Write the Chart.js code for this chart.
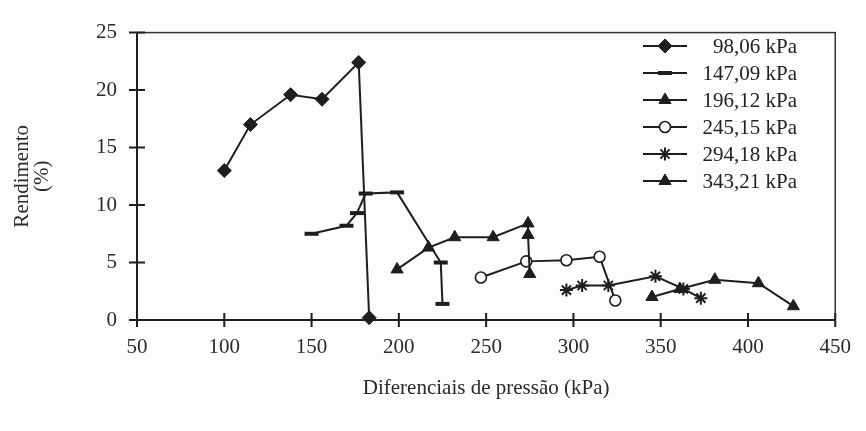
<!DOCTYPE html>
<html>
<head>
<meta charset="utf-8">
<script src="https://cdn.jsdelivr.net/npm/chart.js@4.4.1/dist/chart.umd.min.js"></script>
<style>
    body { margin: 0; background: #fdfdfd; }
    canvas { display: block; }
</style>
</head>
<body>
<canvas id="chart" width="866" height="431"></canvas>
<script>
// legend labels, one per pressure
const seriesNames = ['98,06 kPa', '147,09 kPa', '196,12 kPa', '245,15 kPa', '294,18 kPa', '343,21 kPa'];

// values (x = pressure differential in kPa, y = yield in %)
const x98 = [100, 115, 138, 156, 177, 183];
const y98 = [13.0, 17.0, 19.6, 19.2, 22.4, 0.2];

const x147 = [150, 170, 176, 181, 199, 224, 225];
const y147 = [7.5, 8.2, 9.3, 11.0, 11.1, 5.0, 1.4];

const x196 = [199, 217, 232, 254, 274, 274, 275];
const y196 = [4.4, 6.3, 7.2, 7.2, 8.4, 7.4, 4.0];

const x245 = [247, 273, 296, 315, 324];
const y245 = [3.7, 5.1, 5.2, 5.5, 1.7];

const x294 = [296, 305, 320, 347, 363, 373];
const y294 = [2.6, 3.0, 3.0, 3.8, 2.7, 1.9];

const x343 = [345, 361, 381, 406, 426];
const y343 = [2.0, 2.7, 3.5, 3.2, 1.2];

const xTicks = [50, 100, 150, 200, 250, 300, 350, 400, 450];
const yTicks = [0, 5, 10, 15, 20, 25];

const ink = '#1e1e1e';
const serif = "'Liberation Serif', 'DejaVu Serif', serif";

const markers = [
    { pointStyle: 'rectRot', radius: 7, fill: ink, borderWidth: 1 },
    { pointStyle: 'line', radius: 7, fill: ink, borderWidth: 4 },
    { pointStyle: 'triangle', radius: 7, fill: ink, borderWidth: 1 },
    { pointStyle: 'circle', radius: 5.5, fill: '#fdfdfd', borderWidth: 1.6 },
    { pointStyle: 'star', radius: 6.5, fill: ink, borderWidth: 2 },
    { pointStyle: 'triangle', radius: 7, fill: ink, borderWidth: 1 }
];

const xs = [x98, x147, x196, x245, x294, x343];
const ys = [y98, y147, y196, y245, y294, y343];

const datasets = seriesNames.map((name, i) => ({
    label: name,
    data: xs[i].map((x, j) => ({ x: x, y: ys[i][j] })),
    showLine: true,
    borderColor: ink,
    borderWidth: 2,
    tension: 0,
    clip: false,
    pointStyle: markers[i].pointStyle,
    pointRadius: markers[i].radius,
    pointBackgroundColor: markers[i].fill,
    pointBorderColor: ink,
    pointBorderWidth: markers[i].borderWidth
}));

// frame round the plot with ticks crossing the axes
const framePlugin = {
    id: 'frame',
    beforeDatasetsDraw: (chart) => {
        const { ctx, chartArea: a, scales } = chart;
        ctx.save();
        ctx.strokeStyle = '#333';
        ctx.lineWidth = 1.5;
        ctx.strokeRect(a.left, a.top, a.right - a.left, a.bottom - a.top);
        ctx.strokeStyle = ink;
        ctx.lineWidth = 2;
        ctx.beginPath();
        ctx.moveTo(a.left, a.top);
        ctx.lineTo(a.left, a.bottom);
        ctx.lineTo(a.right, a.bottom);
        xTicks.forEach(v => {
            const px = scales.x.getPixelForValue(v);
            ctx.moveTo(px, a.bottom - 7);
            ctx.lineTo(px, a.bottom + 7);
        });
        yTicks.forEach(v => {
            const py = scales.y.getPixelForValue(v);
            ctx.moveTo(a.left - 8, py);
            ctx.lineTo(a.left + 8, py);
        });
        ctx.stroke();
        ctx.restore();
    }
};

// legend drawn inside the plot, top right
const legendPlugin = {
    id: 'boxLegend',
    afterDraw: (chart) => {
        const { ctx } = chart;
        ctx.save();
        chart.data.datasets.forEach((ds, i) => {
            const y = 46 + i * 27;
            ctx.strokeStyle = ink;
            ctx.lineWidth = 2;
            ctx.beginPath();
            ctx.moveTo(643, y);
            ctx.lineTo(687, y);
            ctx.stroke();
            ctx.fillStyle = markers[i].fill;
            ctx.lineWidth = markers[i].borderWidth;
            Chart.helpers.drawPoint(ctx, {
                pointStyle: markers[i].pointStyle,
                radius: markers[i].radius,
                rotation: 0,
                borderWidth: markers[i].borderWidth
            }, 665, y);
            ctx.fillStyle = '#222';
            ctx.font = '21px ' + serif;
            ctx.textAlign = 'right';
            ctx.textBaseline = 'middle';
            ctx.fillText(ds.label, 797, y + 1);
        });
        ctx.restore();
    }
};

new Chart(document.getElementById('chart'), {
    type: 'scatter',
    data: { datasets: datasets },
    options: {
        responsive: false,
        animation: false,
        layout: { padding: { top: 24, right: 21, left: 0, bottom: 0 } },
        plugins: { legend: { display: false }, tooltip: { enabled: false } },
        scales: {
            x: {
                type: 'linear',
                min: 50,
                max: 450,
                afterBuildTicks: (scale) => { scale.ticks = xTicks.map(v => ({ value: v })); },
                afterFit: (scale) => { scale.height = 111; },
                grid: { display: false, drawTicks: false },
                border: { display: false },
                ticks: { color: '#2a2a2a', padding: 15, maxRotation: 0, font: { family: serif, size: 21 } },
                title: {
                    display: true,
                    text: 'Diferenciais de pressão (kPa)',
                    color: '#2a2a2a',
                    font: { family: serif, size: 21 },
                    padding: { top: 0, bottom: 30 }
                }
            },
            y: {
                min: 0,
                max: 25,
                afterBuildTicks: (scale) => { scale.ticks = yTicks.map(v => ({ value: v })); },
                afterFit: (scale) => { scale.width = 137; },
                grid: { display: false, drawTicks: false },
                border: { display: false },
                ticks: { color: '#2a2a2a', padding: 20, font: { family: serif, size: 21 } },
                title: {
                    display: true,
                    text: ['Rendimento', '(%)'],
                    color: '#2a2a2a',
                    font: { family: serif, size: 21, lineHeight: 0.95 },
                    padding: { top: 13, bottom: 0 }
                }
            }
        }
    },
    plugins: [framePlugin, legendPlugin]
});
</script>
</body>
</html>
